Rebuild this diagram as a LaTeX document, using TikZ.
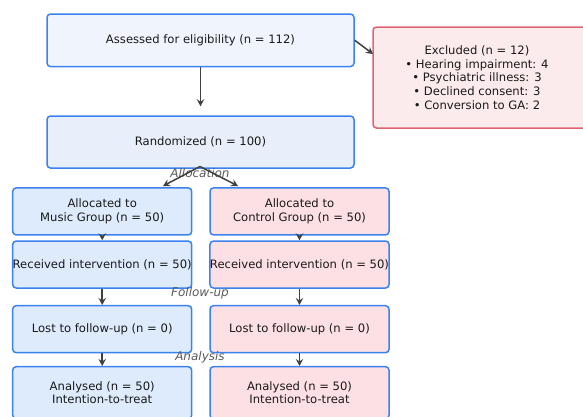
\documentclass[tikz,border=0pt]{standalone}
\usepackage{fontspec}
\setmainfont{DejaVu Sans}
\usetikzlibrary{arrows.meta}
\definecolor{bluebd}{HTML}{3B82F0}
\definecolor{bonefill}{HTML}{F0F5FD}
\definecolor{btwofill}{HTML}{E8EFFA}
\definecolor{musicfill}{HTML}{DDEBFD}
\definecolor{ctrlfill}{HTML}{FDE0E4}
\definecolor{exfill}{HTML}{FCEBEC}
\definecolor{exbd}{HTML}{DE6474}
\definecolor{arrcol}{HTML}{404040}
\definecolor{phasecol}{HTML}{5A5A5A}
\tikzset{
  x=1pt, y=-1pt,
  boxbase/.style={draw, line width=1.5pt, rounded corners=3.5pt, inner sep=0pt, align=center,
    font=\fontsize{11.6}{13.6}\selectfont, text=black!90},
  topbox/.style={boxbase, draw=bluebd, minimum width=307, minimum height=52.5},
  musicbox/.style={boxbase, draw=bluebd, fill=musicfill, minimum width=179, minimum height=47},
  ctrlbox/.style={boxbase, draw=bluebd, fill=ctrlfill, minimum width=179, minimum height=47},
  exbox/.style={boxbase, draw=exbd, fill=exfill, minimum width=230, minimum height=101},
  plain/.style={inner sep=0pt, align=center, font=\fontsize{11.6}{13.6}\selectfont, text=black!90},
  phase/.style={inner sep=0pt, font=\fontsize{12}{13.6}\selectfont\itshape, text=phasecol},
  arr/.style={draw=arrcol, line width=1.5pt, -{Stealth[length=7pt,width=7.5pt,inset=2.5pt]}},
}
\begin{document}
\begin{tikzpicture}
\useasboundingbox (0,0) rectangle (583,416);
% top
\node[topbox, fill=bonefill] (b1) at (200.5,40.3) {Assessed for eligibility (n = 112)};
\node[topbox, fill=btwofill, minimum height=52] (b2) at (200.5,142) {Randomized (n = 100)};
\node[exbox] (excl) at (488,77.5) {};
\node[plain] (exctext) at (477,77.5) {Excluded (n = 12)\\ • Hearing impairment: 4\\ • Psychiatric illness: 3\\ • Declined consent: 3\\ • Conversion to GA: 2};
% columns
\node[musicbox] (ma) at (102.2,211.4) {Allocated to\\ Music Group (n = 50)};
\node[ctrlbox] (ca) at (299.5,211.4) {Allocated to\\ Control Group (n = 50)};
\node[musicbox] (mr) at (102.2,264.5) {Received intervention (n = 50)};
\node[ctrlbox] (cr) at (299.5,264.5) {Received intervention (n = 50)};
\node[musicbox] (ml) at (102.2,329.2) {Lost to follow-up (n = 0)};
\node[ctrlbox] (cl) at (299.5,329.2) {Lost to follow-up (n = 0)};
\node[musicbox, minimum height=52] (mn) at (102.2,392.7) {Analysed (n = 50)\\ Intention-to-treat};
\node[ctrlbox, minimum height=52] (cn) at (299.5,392.7) {Analysed (n = 50)\\ Intention-to-treat};
% phase labels
\node[phase] (lalloc) at (200,173) {Allocation};
\node[phase] (lfollow) at (200,293) {Follow-up};
\node[phase] (lanal) at (200,357) {Analysis};
% connectors
\coordinate (exin) at (373,54);
\coordinate (b2out) at (200,166.5);
\coordinate (main) at (163,186);
\coordinate (cain) at (238,186);
\draw[arr, shorten >=9pt] (b1.south) -- (b2.north);
\draw[arr] (b1.east) -- (exin);
\draw[arr] (b2out) -- (main);
\draw[arr] (b2out) -- (cain);
\draw[arr] (ma.south) -- (mr.north);
\draw[arr] (ca.south) -- (cr.north);
\draw[arr] (mr.south) -- (ml.north);
\draw[arr] (cr.south) -- (cl.north);
\draw[arr] (ml.south) -- (mn.north);
\draw[arr] (cl.south) -- (cn.north);
\end{tikzpicture}
\end{document}
